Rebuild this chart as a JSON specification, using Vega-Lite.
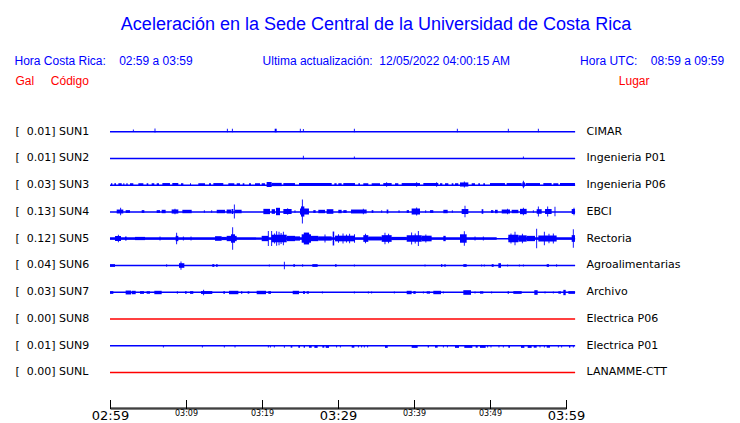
{
"$schema": "https://vega.github.io/schema/vega-lite/v6.json",
"width": 456, "height": 291.5,
"autosize": "none",
"padding": {"left": 110, "top": 117, "right": 174, "bottom": 14.5},
"background": "white",
"config": {"view": {"stroke": null}},
"title": {
  "text": "Aceleración en la Sede Central de la Universidad de Costa Rica",
  "subtitle": "Hora Costa Rica:\u00a0\u00a0\u00a0\u00a002:59 a 03:59\u00a0\u00a0\u00a0\u00a0\u00a0\u00a0\u00a0\u00a0\u00a0\u00a0\u00a0\u00a0\u00a0\u00a0\u00a0\u00a0\u00a0\u00a0\u00a0\u00a0\u00a0Ultima actualización:\u00a0\u00a012/05/2022 04:00:15 AM\u00a0\u00a0\u00a0\u00a0\u00a0\u00a0\u00a0\u00a0\u00a0\u00a0\u00a0\u00a0\u00a0\u00a0\u00a0\u00a0\u00a0\u00a0\u00a0\u00a0\u00a0Hora UTC:\u00a0\u00a0\u00a0\u00a008:59 a 09:59\u00a0\u00a0\u00a0\u00a0\u200b",
  "anchor": "middle", "frame": "group", "dx": 38, "offset": 7,
  "font": "Liberation Sans", "fontSize": 18, "fontWeight": "normal", "color": "#0000ff",
  "subtitleFont": "Liberation Sans", "subtitleFontSize": 12, "subtitleColor": "#0000ff", "subtitlePadding": 22
},
"datasets": {
  "eje": [{"inicio": 0, "fin": 60, "nivel": 0}],
  "estaciones": [
    {"est": "SUN1", "pico_gal": 0.01, "lugar": "CIMAR", "estado": "con señal"},
    {"est": "SUN2", "pico_gal": 0.01, "lugar": "Ingenieria P01", "estado": "con señal"},
    {"est": "SUN3", "pico_gal": 0.03, "lugar": "Ingenieria P06", "estado": "con señal"},
    {"est": "SUN4", "pico_gal": 0.13, "lugar": "EBCI", "estado": "con señal"},
    {"est": "SUN5", "pico_gal": 0.12, "lugar": "Rectoria", "estado": "con señal"},
    {"est": "SUN6", "pico_gal": 0.04, "lugar": "Agroalimentarias", "estado": "con señal"},
    {"est": "SUN7", "pico_gal": 0.03, "lugar": "Archivo", "estado": "con señal"},
    {"est": "SUN8", "pico_gal": 0.00, "lugar": "Electrica P06", "estado": "sin señal"},
    {"est": "SUN9", "pico_gal": 0.01, "lugar": "Electrica P01", "estado": "con señal"},
    {"est": "SUNL", "pico_gal": 0.00, "lugar": "LANAMME-CTT", "estado": "sin señal"}
  ],
  "rafagas": [
    {"est":"SUN1","ini":3.01,"fin":3.13,"gal":0.004},{"est":"SUN1","ini":5.86,"fin":5.98,"gal":0.0145},{"est":"SUN1","ini":15.38,"fin":15.5,"gal":0.012},{"est":"SUN1","ini":16.04,"fin":16.16,"gal":0.012},{"est":"SUN1","ini":21.67,"fin":21.93,"gal":0.012},{"est":"SUN1","ini":24.98,"fin":25.1,"gal":0.012},{"est":"SUN1","ini":25.38,"fin":25.5,"gal":0.008},{"est":"SUN1","ini":32.09,"fin":32.21,"gal":0.012},{"est":"SUN1","ini":45.64,"fin":45.76,"gal":0.012},{"est":"SUN1","ini":52.35,"fin":52.47,"gal":0.012},{"est":"SUN1","ini":56.3,"fin":56.42,"gal":0.012},
    {"est":"SUN2","ini":25.38,"fin":25.5,"gal":0.011},{"est":"SUN2","ini":32.09,"fin":32.21,"gal":0.004},{"est":"SUN2","ini":54.33,"fin":54.45,"gal":0.004},
    {"est":"SUN3","ini":0.13,"fin":0.31,"gal":0.006},{"est":"SUN3","ini":0.57,"fin":0.79,"gal":0.006},{"est":"SUN3","ini":1.1,"fin":1.54,"gal":0.006},{"est":"SUN3","ini":1.75,"fin":1.89,"gal":0.006},{"est":"SUN3","ini":2.15,"fin":2.32,"gal":0.006},{"est":"SUN3","ini":2.63,"fin":3.07,"gal":0.006},{"est":"SUN3","ini":3.73,"fin":4.39,"gal":0.006},{"est":"SUN3","ini":4.82,"fin":5.04,"gal":0.006},{"est":"SUN3","ini":5.48,"fin":5.83,"gal":0.006},{"est":"SUN3","ini":6.14,"fin":6.45,"gal":0.006},{"est":"SUN3","ini":6.89,"fin":7.89,"gal":0.008},{"est":"SUN3","ini":8.2,"fin":8.99,"gal":0.008},{"est":"SUN3","ini":9.34,"fin":9.65,"gal":0.006},{"est":"SUN3","ini":10.53,"fin":10.66,"gal":0.006},{"est":"SUN3","ini":11.62,"fin":12.5,"gal":0.006},{"est":"SUN3","ini":13.03,"fin":13.29,"gal":0.006},{"est":"SUN3","ini":13.6,"fin":14.91,"gal":0.008},{"est":"SUN3","ini":15.57,"fin":16.36,"gal":0.006},{"est":"SUN3","ini":16.67,"fin":17.11,"gal":0.006},{"est":"SUN3","ini":17.46,"fin":17.68,"gal":0.006},{"est":"SUN3","ini":18.29,"fin":18.55,"gal":0.006},{"est":"SUN3","ini":19.08,"fin":19.74,"gal":0.006},{"est":"SUN3","ini":19.96,"fin":20.39,"gal":0.006},{"est":"SUN3","ini":20.61,"fin":21.27,"gal":0.02},{"est":"SUN3","ini":21.27,"fin":22.59,"gal":0.01},{"est":"SUN3","ini":22.81,"fin":24.34,"gal":0.008},{"est":"SUN3","ini":24.87,"fin":29.17,"gal":0.01},{"est":"SUN3","ini":29.52,"fin":29.82,"gal":0.006},{"est":"SUN3","ini":30.04,"fin":30.48,"gal":0.006},{"est":"SUN3","ini":30.7,"fin":32.24,"gal":0.008},{"est":"SUN3","ini":32.68,"fin":32.89,"gal":0.006},{"est":"SUN3","ini":33.33,"fin":33.99,"gal":0.006},{"est":"SUN3","ini":34.43,"fin":35.53,"gal":0.006},{"est":"SUN3","ini":35.96,"fin":37.06,"gal":0.008},{"est":"SUN3","ini":36.34,"fin":36.46,"gal":0.018},{"est":"SUN3","ini":37.5,"fin":37.94,"gal":0.006},{"est":"SUN3","ini":38.38,"fin":40.79,"gal":0.008},{"est":"SUN3","ini":40.29,"fin":40.41,"gal":0.018},{"est":"SUN3","ini":41.23,"fin":43.2,"gal":0.008},{"est":"SUN3","ini":42.92,"fin":43.04,"gal":0.018},{"est":"SUN3","ini":43.42,"fin":43.73,"gal":0.006},{"est":"SUN3","ini":44.08,"fin":44.52,"gal":0.006},{"est":"SUN3","ini":44.96,"fin":45.18,"gal":0.006},{"est":"SUN3","ini":45.39,"fin":45.83,"gal":0.006},{"est":"SUN3","ini":46.05,"fin":47.15,"gal":0.015},{"est":"SUN3","ini":46.56,"fin":46.68,"gal":0.026},{"est":"SUN3","ini":47.59,"fin":48.03,"gal":0.006},{"est":"SUN3","ini":48.46,"fin":48.68,"gal":0.006},{"est":"SUN3","ini":49.12,"fin":49.34,"gal":0.006},{"est":"SUN3","ini":50.0,"fin":51.97,"gal":0.008},{"est":"SUN3","ini":52.19,"fin":54.17,"gal":0.008},{"est":"SUN3","ini":54.25,"fin":54.61,"gal":0.015},{"est":"SUN3","ini":54.33,"fin":54.45,"gal":0.036},{"est":"SUN3","ini":54.69,"fin":56.58,"gal":0.008},{"est":"SUN3","ini":57.02,"fin":58.11,"gal":0.008},{"est":"SUN3","ini":58.33,"fin":58.99,"gal":0.006},{"est":"SUN3","ini":59.21,"fin":61.18,"gal":0.008},
    {"est":"SUN4","ini":0.88,"fin":1.75,"gal":0.014},{"est":"SUN4","ini":1.34,"fin":1.46,"gal":0.034},{"est":"SUN4","ini":2.06,"fin":2.63,"gal":0.007},{"est":"SUN4","ini":4.17,"fin":4.52,"gal":0.007},{"est":"SUN4","ini":6.14,"fin":6.58,"gal":0.007},{"est":"SUN4","ini":6.8,"fin":7.32,"gal":0.011},{"est":"SUN4","ini":8.11,"fin":8.99,"gal":0.015},{"est":"SUN4","ini":8.49,"fin":8.61,"gal":0.022},{"est":"SUN4","ini":9.52,"fin":10.75,"gal":0.011},{"est":"SUN4","ini":12.35,"fin":12.47,"gal":0.007},{"est":"SUN4","ini":13.32,"fin":13.44,"gal":0.006},{"est":"SUN4","ini":14.04,"fin":15.13,"gal":0.011},{"est":"SUN4","ini":15.35,"fin":15.92,"gal":0.014},{"est":"SUN4","ini":15.99,"fin":16.23,"gal":0.02},{"est":"SUN4","ini":16.3,"fin":16.42,"gal":0.072},{"est":"SUN4","ini":16.45,"fin":17.32,"gal":0.011},{"est":"SUN4","ini":20.18,"fin":21.05,"gal":0.022},{"est":"SUN4","ini":21.27,"fin":21.71,"gal":0.018},{"est":"SUN4","ini":21.84,"fin":22.37,"gal":0.034},{"est":"SUN4","ini":22.81,"fin":23.9,"gal":0.02},{"est":"SUN4","ini":23.32,"fin":23.44,"gal":0.03},{"est":"SUN4","ini":24.28,"fin":24.4,"gal":0.007},{"est":"SUN4","ini":25.0,"fin":26.18,"gal":0.026},{"est":"SUN4","ini":25.13,"fin":25.57,"gal":0.05},{"est":"SUN4","ini":25.25,"fin":25.37,"gal":0.13},{"est":"SUN4","ini":26.75,"fin":27.06,"gal":0.007},{"est":"SUN4","ini":27.41,"fin":28.29,"gal":0.011},{"est":"SUN4","ini":28.51,"fin":29.39,"gal":0.018},{"est":"SUN4","ini":30.04,"fin":30.48,"gal":0.011},{"est":"SUN4","ini":30.7,"fin":31.14,"gal":0.007},{"est":"SUN4","ini":31.71,"fin":33.77,"gal":0.014},{"est":"SUN4","ini":33.27,"fin":33.39,"gal":0.022},{"est":"SUN4","ini":34.43,"fin":34.65,"gal":0.007},{"est":"SUN4","ini":35.69,"fin":35.81,"gal":0.007},{"est":"SUN4","ini":36.4,"fin":36.62,"gal":0.014},{"est":"SUN4","ini":37.97,"fin":38.09,"gal":0.006},{"est":"SUN4","ini":39.04,"fin":39.34,"gal":0.007},{"est":"SUN4","ini":39.69,"fin":40.79,"gal":0.026},{"est":"SUN4","ini":40.29,"fin":40.41,"gal":0.038},{"est":"SUN4","ini":41.48,"fin":41.6,"gal":0.007},{"est":"SUN4","ini":42.11,"fin":42.54,"gal":0.007},{"est":"SUN4","ini":43.86,"fin":44.43,"gal":0.011},{"est":"SUN4","ini":44.98,"fin":45.1,"gal":0.007},{"est":"SUN4","ini":46.27,"fin":47.15,"gal":0.02},{"est":"SUN4","ini":46.65,"fin":46.77,"gal":0.058},{"est":"SUN4","ini":48.9,"fin":49.12,"gal":0.018},{"est":"SUN4","ini":50.13,"fin":50.44,"gal":0.007},{"est":"SUN4","ini":50.66,"fin":51.01,"gal":0.011},{"est":"SUN4","ini":51.54,"fin":52.63,"gal":0.014},{"est":"SUN4","ini":52.26,"fin":52.38,"gal":0.022},{"est":"SUN4","ini":52.85,"fin":53.73,"gal":0.011},{"est":"SUN4","ini":53.95,"fin":54.82,"gal":0.022},{"est":"SUN4","ini":54.33,"fin":54.45,"gal":0.034},{"est":"SUN4","ini":55.64,"fin":55.76,"gal":0.007},{"est":"SUN4","ini":56.14,"fin":56.8,"gal":0.018},{"est":"SUN4","ini":56.3,"fin":56.42,"gal":0.049},{"est":"SUN4","ini":57.24,"fin":58.11,"gal":0.02},{"est":"SUN4","ini":57.53,"fin":57.65,"gal":0.05},{"est":"SUN4","ini":58.49,"fin":58.61,"gal":0.045},{"est":"SUN4","ini":60.75,"fin":61.18,"gal":0.02},{"est":"SUN4","ini":60.99,"fin":61.11,"gal":0.034},
    {"est":"SUN5","ini":0,"fin":19.3,"gal":0.007},{"est":"SUN5","ini":19.3,"fin":19.96,"gal":0.004},{"est":"SUN5","ini":19.96,"fin":50.88,"gal":0.007},{"est":"SUN5","ini":52.41,"fin":61.18,"gal":0.007},{"est":"SUN5","ini":0.66,"fin":1.45,"gal":0.02},{"est":"SUN5","ini":1.04,"fin":1.16,"gal":0.034},{"est":"SUN5","ini":1.97,"fin":2.19,"gal":0.014},{"est":"SUN5","ini":3.29,"fin":4.61,"gal":0.01},{"est":"SUN5","ini":6.52,"fin":6.64,"gal":0.014},{"est":"SUN5","ini":8.64,"fin":8.99,"gal":0.022},{"est":"SUN5","ini":8.71,"fin":8.83,"gal":0.059},{"est":"SUN5","ini":9.59,"fin":9.71,"gal":0.014},{"est":"SUN5","ini":10.6,"fin":10.72,"gal":0.014},{"est":"SUN5","ini":13.82,"fin":14.69,"gal":0.018},{"est":"SUN5","ini":14.69,"fin":15.35,"gal":0.01},{"est":"SUN5","ini":15.35,"fin":16.67,"gal":0.022},{"est":"SUN5","ini":15.92,"fin":16.45,"gal":0.04},{"est":"SUN5","ini":16.08,"fin":16.2,"gal":0.12},{"est":"SUN5","ini":19.96,"fin":20.83,"gal":0.022},{"est":"SUN5","ini":20.77,"fin":20.89,"gal":0.078},{"est":"SUN5","ini":21.27,"fin":23.25,"gal":0.035},{"est":"SUN5","ini":21.21,"fin":21.33,"gal":0.078},{"est":"SUN5","ini":21.6,"fin":21.72,"gal":0.05},{"est":"SUN5","ini":21.87,"fin":21.99,"gal":0.075},{"est":"SUN5","ini":22.18,"fin":22.3,"gal":0.07},{"est":"SUN5","ini":22.45,"fin":22.57,"gal":0.055},{"est":"SUN5","ini":22.75,"fin":22.87,"gal":0.07},{"est":"SUN5","ini":23.25,"fin":24.34,"gal":0.022},{"est":"SUN5","ini":24.34,"fin":25.0,"gal":0.016},{"est":"SUN5","ini":25.22,"fin":26.45,"gal":0.04},{"est":"SUN5","ini":25.5,"fin":26.2,"gal":0.06},{"est":"SUN5","ini":26.45,"fin":27.41,"gal":0.022},{"est":"SUN5","ini":27.41,"fin":29.17,"gal":0.016},{"est":"SUN5","ini":28.23,"fin":28.35,"gal":0.038},{"est":"SUN5","ini":29.3,"fin":29.5,"gal":0.072},{"est":"SUN5","ini":29.61,"fin":32.24,"gal":0.024},{"est":"SUN5","ini":30.0,"fin":30.12,"gal":0.04},{"est":"SUN5","ini":30.6,"fin":30.72,"gal":0.05},{"est":"SUN5","ini":31.05,"fin":31.17,"gal":0.038},{"est":"SUN5","ini":31.47,"fin":31.59,"gal":0.045},{"est":"SUN5","ini":32.12,"fin":32.24,"gal":0.04},{"est":"SUN5","ini":33.33,"fin":33.99,"gal":0.03},{"est":"SUN5","ini":33.55,"fin":33.67,"gal":0.045},{"est":"SUN5","ini":33.99,"fin":35.75,"gal":0.014},{"est":"SUN5","ini":35.75,"fin":37.06,"gal":0.03},{"est":"SUN5","ini":36.12,"fin":36.24,"gal":0.059},{"est":"SUN5","ini":36.6,"fin":36.72,"gal":0.045},{"est":"SUN5","ini":37.06,"fin":39.04,"gal":0.01},{"est":"SUN5","ini":39.04,"fin":41.01,"gal":0.03},{"est":"SUN5","ini":39.63,"fin":39.75,"gal":0.06},{"est":"SUN5","ini":40.1,"fin":40.22,"gal":0.05},{"est":"SUN5","ini":40.51,"fin":40.63,"gal":0.078},{"est":"SUN5","ini":41.01,"fin":42.32,"gal":0.024},{"est":"SUN5","ini":41.5,"fin":41.62,"gal":0.038},{"est":"SUN5","ini":43.86,"fin":44.17,"gal":0.022},{"est":"SUN5","ini":46.05,"fin":46.93,"gal":0.04},{"est":"SUN5","ini":46.56,"fin":46.68,"gal":0.076},{"est":"SUN5","ini":47.97,"fin":48.09,"gal":0.014},{"est":"SUN5","ini":49.06,"fin":49.18,"gal":0.014},{"est":"SUN5","ini":52.41,"fin":53.73,"gal":0.035},{"est":"SUN5","ini":52.7,"fin":52.82,"gal":0.05},{"est":"SUN5","ini":53.23,"fin":53.35,"gal":0.068},{"est":"SUN5","ini":53.73,"fin":54.82,"gal":0.028},{"est":"SUN5","ini":54.2,"fin":54.32,"gal":0.045},{"est":"SUN5","ini":54.82,"fin":55.92,"gal":0.022},{"est":"SUN5","ini":56.08,"fin":56.2,"gal":0.105},{"est":"SUN5","ini":56.36,"fin":58.77,"gal":0.026},{"est":"SUN5","ini":57.09,"fin":57.21,"gal":0.068},{"est":"SUN5","ini":57.7,"fin":57.82,"gal":0.045},{"est":"SUN5","ini":58.27,"fin":58.39,"gal":0.049},{"est":"SUN5","ini":60.75,"fin":61.18,"gal":0.03},{"est":"SUN5","ini":60.9,"fin":61.02,"gal":0.097},
    {"est":"SUN6","ini":0.0,"fin":0.66,"gal":0.007},{"est":"SUN6","ini":7.4,"fin":7.52,"gal":0.007},{"est":"SUN6","ini":9.08,"fin":9.78,"gal":0.018},{"est":"SUN6","ini":9.28,"fin":9.4,"gal":0.039},{"est":"SUN6","ini":13.46,"fin":13.73,"gal":0.007},{"est":"SUN6","ini":13.95,"fin":14.17,"gal":0.007},{"est":"SUN6","ini":20.9,"fin":21.02,"gal":0.003},{"est":"SUN6","ini":22.88,"fin":23.0,"gal":0.034},{"est":"SUN6","ini":24.12,"fin":24.34,"gal":0.007},{"est":"SUN6","ini":25.29,"fin":25.41,"gal":0.005},{"est":"SUN6","ini":26.62,"fin":27.32,"gal":0.007},{"est":"SUN6","ini":29.61,"fin":29.82,"gal":0.007},{"est":"SUN6","ini":32.09,"fin":32.21,"gal":0.004},{"est":"SUN6","ini":41.39,"fin":41.51,"gal":0.003},{"est":"SUN6","ini":43.55,"fin":43.73,"gal":0.007},{"est":"SUN6","ini":43.99,"fin":44.17,"gal":0.007},{"est":"SUN6","ini":46.49,"fin":46.93,"gal":0.007},{"est":"SUN6","ini":48.84,"fin":48.96,"gal":0.004},{"est":"SUN6","ini":49.19,"fin":49.31,"gal":0.004},{"est":"SUN6","ini":50.22,"fin":50.48,"gal":0.007},{"est":"SUN6","ini":51.1,"fin":51.45,"gal":0.018},{"est":"SUN6","ini":52.26,"fin":52.38,"gal":0.004},{"est":"SUN6","ini":53.8,"fin":53.92,"gal":0.004},{"est":"SUN6","ini":54.33,"fin":54.45,"gal":0.003},{"est":"SUN6","ini":57.46,"fin":57.76,"gal":0.007},{"est":"SUN6","ini":58.71,"fin":58.83,"gal":0.007},
    {"est":"SUN7","ini":0,"fin":0.44,"gal":0.007},{"est":"SUN7","ini":2.06,"fin":2.76,"gal":0.014},{"est":"SUN7","ini":2.85,"fin":3.38,"gal":0.011},{"est":"SUN7","ini":3.95,"fin":4.47,"gal":0.007},{"est":"SUN7","ini":4.82,"fin":5.26,"gal":0.007},{"est":"SUN7","ini":5.83,"fin":6.8,"gal":0.011},{"est":"SUN7","ini":8.8,"fin":8.92,"gal":0.005},{"est":"SUN7","ini":9.87,"fin":10.09,"gal":0.007},{"est":"SUN7","ini":10.53,"fin":10.96,"gal":0.007},{"est":"SUN7","ini":11.97,"fin":13.46,"gal":0.008},{"est":"SUN7","ini":12.26,"fin":12.38,"gal":0.022},{"est":"SUN7","ini":14.91,"fin":15.13,"gal":0.005},{"est":"SUN7","ini":15.66,"fin":16.89,"gal":0.011},{"est":"SUN7","ini":17.24,"fin":17.41,"gal":0.005},{"est":"SUN7","ini":18.11,"fin":18.33,"gal":0.005},{"est":"SUN7","ini":19.3,"fin":20.53,"gal":0.011},{"est":"SUN7","ini":20.83,"fin":21.18,"gal":0.007},{"est":"SUN7","ini":24.04,"fin":24.87,"gal":0.011},{"est":"SUN7","ini":25.39,"fin":25.66,"gal":0.007},{"est":"SUN7","ini":25.88,"fin":26.18,"gal":0.005},{"est":"SUN7","ini":27.88,"fin":28.0,"gal":0.004},{"est":"SUN7","ini":32.09,"fin":32.21,"gal":0.004},{"est":"SUN7","ini":33.93,"fin":34.05,"gal":0.004},{"est":"SUN7","ini":34.37,"fin":34.49,"gal":0.004},{"est":"SUN7","ini":37.35,"fin":37.47,"gal":0.004},{"est":"SUN7","ini":39.04,"fin":39.69,"gal":0.011},{"est":"SUN7","ini":39.91,"fin":40.22,"gal":0.007},{"est":"SUN7","ini":41.17,"fin":41.29,"gal":0.004},{"est":"SUN7","ini":41.67,"fin":42.11,"gal":0.005},{"est":"SUN7","ini":42.54,"fin":43.55,"gal":0.011},{"est":"SUN7","ini":43.8,"fin":43.92,"gal":0.004},{"est":"SUN7","ini":46.49,"fin":47.5,"gal":0.018},{"est":"SUN7","ini":47.97,"fin":48.09,"gal":0.004},{"est":"SUN7","ini":48.68,"fin":49.12,"gal":0.005},{"est":"SUN7","ini":50.16,"fin":50.28,"gal":0.004},{"est":"SUN7","ini":52.32,"fin":52.5,"gal":0.005},{"est":"SUN7","ini":53.07,"fin":54.17,"gal":0.007},{"est":"SUN7","ini":55.83,"fin":56.27,"gal":0.018},{"est":"SUN7","ini":57.18,"fin":57.3,"gal":0.004},{"est":"SUN7","ini":58.27,"fin":58.39,"gal":0.004},{"est":"SUN7","ini":58.99,"fin":59.34,"gal":0.005},{"est":"SUN7","ini":59.65,"fin":59.96,"gal":0.022},{"est":"SUN7","ini":60.31,"fin":61.18,"gal":0.007},
    {"est":"SUN9","ini":6.96,"fin":7.08,"gal":0.003},{"est":"SUN9","ini":12.09,"fin":12.21,"gal":0.003},{"est":"SUN9","ini":14.98,"fin":15.1,"gal":0.003},{"est":"SUN9","ini":16.39,"fin":16.51,"gal":0.003},{"est":"SUN9","ini":20.77,"fin":20.89,"gal":0.003},{"est":"SUN9","ini":21.04,"fin":21.16,"gal":0.003},{"est":"SUN9","ini":21.56,"fin":21.68,"gal":0.003},{"est":"SUN9","ini":22.88,"fin":23.0,"gal":0.005},{"est":"SUN9","ini":23.77,"fin":23.99,"gal":0.005},{"est":"SUN9","ini":24.78,"fin":25.0,"gal":0.005},{"est":"SUN9","ini":25.48,"fin":25.66,"gal":0.005},{"est":"SUN9","ini":26.18,"fin":26.54,"gal":0.007},{"est":"SUN9","ini":26.89,"fin":27.32,"gal":0.007},{"est":"SUN9","ini":27.94,"fin":28.2,"gal":0.005},{"est":"SUN9","ini":28.38,"fin":28.82,"gal":0.007},{"est":"SUN9","ini":29.76,"fin":29.88,"gal":0.003},{"est":"SUN9","ini":30.25,"fin":30.37,"gal":0.003},{"est":"SUN9","ini":31.8,"fin":32.15,"gal":0.005},{"est":"SUN9","ini":32.62,"fin":32.74,"gal":0.004},{"est":"SUN9","ini":33.05,"fin":33.17,"gal":0.004},{"est":"SUN9","ini":33.4,"fin":33.52,"gal":0.004},{"est":"SUN9","ini":33.84,"fin":33.96,"gal":0.004},{"est":"SUN9","ini":36.18,"fin":36.54,"gal":0.007},{"est":"SUN9","ini":39.69,"fin":40.48,"gal":0.007},{"est":"SUN9","ini":41.8,"fin":41.97,"gal":0.004},{"est":"SUN9","ini":42.76,"fin":43.11,"gal":0.005},{"est":"SUN9","ini":43.8,"fin":43.92,"gal":0.004},{"est":"SUN9","ini":44.33,"fin":44.45,"gal":0.004},{"est":"SUN9","ini":45.39,"fin":45.92,"gal":0.007},{"est":"SUN9","ini":46.62,"fin":47.68,"gal":0.007},{"est":"SUN9","ini":48.11,"fin":48.38,"gal":0.005},{"est":"SUN9","ini":48.68,"fin":49.43,"gal":0.007},{"est":"SUN9","ini":49.63,"fin":49.75,"gal":0.004},{"est":"SUN9","ini":50.07,"fin":50.19,"gal":0.004},{"est":"SUN9","ini":51.12,"fin":51.24,"gal":0.004},{"est":"SUN9","ini":51.69,"fin":51.81,"gal":0.004},{"est":"SUN9","ini":52.41,"fin":52.63,"gal":0.007},{"est":"SUN9","ini":54.08,"fin":54.52,"gal":0.007},{"est":"SUN9","ini":54.96,"fin":55.48,"gal":0.007},{"est":"SUN9","ini":55.75,"fin":56.14,"gal":0.005},{"est":"SUN9","ini":56.52,"fin":56.64,"gal":0.004},{"est":"SUN9","ini":57.09,"fin":57.21,"gal":0.004},{"est":"SUN9","ini":57.46,"fin":57.89,"gal":0.005},{"est":"SUN9","ini":58.93,"fin":59.05,"gal":0.004},{"est":"SUN9","ini":59.37,"fin":59.49,"gal":0.004},{"est":"SUN9","ini":60.39,"fin":60.57,"gal":0.005},{"est":"SUN9","ini":60.9,"fin":61.02,"gal":0.004}
  ]
},
"layer": [
  {
    "data": {"name": "estaciones"},
    "transform": [{"calculate": "'[\u00a0\u00a0' + format(datum.pico_gal, '.2f') + ']\u00a0' + datum.est", "as": "etiqueta"}],
    "mark": {"type": "rule", "strokeWidth": 1.5},
    "encoding": {
      "y": {"field": "etiqueta", "type": "nominal", "sort": null, "scale": {"padding": 0.898, "align": 0.278},
        "axis": {"orient": "left", "title": "Gal\u00a0\u00a0\u00a0\u00a0\u00a0Código", "titleAngle": 0, "titleAlign": "left", "titleBaseline": "middle", "titleX": -95, "titleY": -37, "titleColor": "#ff0000", "titleFont": "Liberation Sans", "titleFontSize": 12, "titleFontWeight": "normal",
          "labelAlign": "left", "labelPadding": 95, "labelFont": "DejaVu Sans", "labelFontSize": 11, "labelColor": "#000000", "labelBaseline": "middle", "ticks": false, "domain": false, "grid": false, "labelLimit": 0}},
      "x": {"datum": 0, "type": "quantitative", "scale": {"domain": [0, 60], "nice": false, "zero": false}},
      "x2": {"datum": 61.2},
      "color": {"field": "estado", "type": "nominal", "scale": {"domain": ["con señal", "sin señal"], "range": ["#0000ff", "#ff0000"]}, "legend": null}
    }
  },
  {
    "data": {"name": "rafagas"},
    "mark": {"type": "bar", "color": "#0000ff"},
    "encoding": {
      "y": {"field": "est", "type": "nominal", "scale": {"domain": ["SUN1","SUN2","SUN3","SUN4","SUN5","SUN6","SUN7","SUN8","SUN9","SUNL"], "paddingInner": 0, "paddingOuter": 0.398, "align": 0}, "axis": null},
      "x": {"field": "ini", "type": "quantitative", "scale": {"domain": [0, 60], "nice": false, "zero": false},
        "axis": {"orient": "bottom", "values": [0,5,10,15,20,25,30,35,40,45,50,55,60], "title": null, "grid": false,
          "domain": true, "domainColor": "#000000", "domainWidth": 1, "ticks": true, "tickColor": "#000000", "tickWidth": 1, "tickSize": -9,
          "labelExpr": "datum.value % 10 === 0 ? timeFormat(datetime(2022, 4, 12, 2, 59 + datum.value), '%H:%M') : ''",
          "labelFontSize": {"condition": {"test": "datum.value % 30 === 0", "value": 13}, "value": 8},
          "labelFont": "DejaVu Sans", "labelColor": "#000000", "labelBaseline": "top", "labelPadding": 10, "labelOverlap": false, "labelFlush": false, "labelBound": false}},
      "x2": {"field": "fin"},
      "size": {"field": "gal", "type": "quantitative", "scale": {"domain": [0, 0.13], "range": [1.5, 24], "zero": false}, "legend": null}
    }
  },
  {
    "data": {"name": "estaciones"},
    "mark": {"type": "rule", "opacity": 0},
    "encoding": {
      "y": {"field": "lugar", "type": "nominal", "sort": null, "scale": {"padding": 0.898, "align": 0.278},
        "axis": {"orient": "right", "title": "Lugar", "titleAngle": 0, "titleAlign": "right", "titleBaseline": "middle", "titleX": 83, "titleY": -37, "titleColor": "#ff0000", "titleFont": "Liberation Sans", "titleFontSize": 12, "titleFontWeight": "normal",
          "labelAlign": "left", "labelPadding": 20, "labelFont": "DejaVu Sans", "labelFontSize": 11, "labelColor": "#000000", "labelBaseline": "middle", "ticks": false, "domain": false, "grid": false, "labelLimit": 0}},
      "x": {"datum": 0, "type": "quantitative", "scale": {"domain": [0, 60], "nice": false, "zero": false}},
      "x2": {"datum": 61.2}
    }
  },
  {
    "data": {"name": "eje"},
    "mark": {"type": "bar", "color": "#000000"},
    "encoding": {
      "x": {"field": "inicio", "type": "quantitative", "scale": {"domain": [0, 60], "nice": false, "zero": false}},
      "x2": {"field": "fin"},
      "y": {"field": "nivel", "type": "quantitative", "scale": {"domain": [0, 1], "nice": false, "zero": false}, "axis": null},
      "y2": {"datum": 0.0035}
    }
  }
],
"resolve": {"scale": {"y": "independent"}, "axis": {"y": "independent"}}
}
